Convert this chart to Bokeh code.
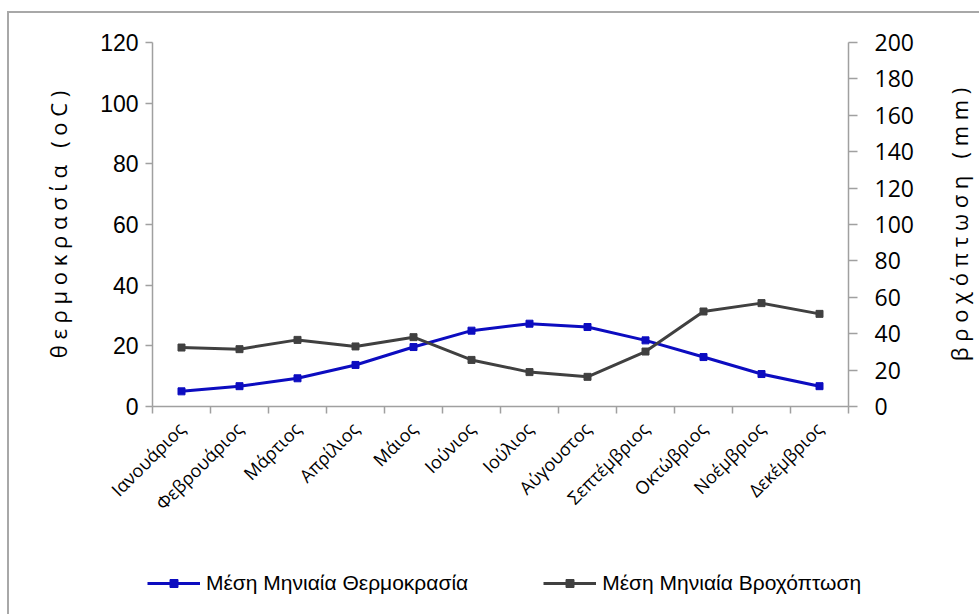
import math
from bokeh.plotting import figure
from bokeh.layouts import column, row
from bokeh.models import Legend, LegendItem, LinearAxis, Range1d, FixedTicker
from bokeh.embed import file_html
from bokeh.resources import INLINE

# ---- data ----
months = ["Ιανουάριος", "Φεβρουάριος", "Μάρτιος", "Απρίλιος", "Μάιος", "Ιούνιος",
          "Ιούλιος", "Αύγουστος", "Σεπτέμβριος", "Οκτώβριος", "Νοέμβριος", "Δεκέμβριος"]
temperature = [5.0, 6.7, 9.3, 13.7, 19.6, 25.0, 27.3, 26.2, 21.8, 16.3, 10.7, 6.7]
rainfall = [32.4, 31.5, 36.6, 33.0, 38.1, 25.6, 18.9, 16.3, 30.2, 52.2, 56.8, 50.9]
temp_ticks = [0, 20, 40, 60, 80, 100, 120]
rain_ticks = [0, 20, 40, 60, 80, 100, 120, 140, 160, 180, 200]
temp_label = "Μέση Μηνιαία Θερμοκρασία"
rain_label = "Μέση Μηνιαία Βροχόπτωση"
NB = "\u00a0"
left_title = NB.join("θερμοκρασία") + NB * 3 + NB.join("(oC)")
right_title = NB.join("βροχόπτωση") + NB * 3 + NB.join("(mm)")

BLUE = "#0c0cc0"
GREY = "#404040"
AXIS = "#a0a0a0"
FRAME = "#a8a8a8"

xs = list(range(len(months)))

MAIN_W = 940
MAIN_H = 560
LEG_H = 614 - MAIN_H


def bare(fig):
    fig.xgrid.visible = False
    fig.ygrid.visible = False
    fig.outline_line_color = None
    fig.border_fill_color = None
    try:
        fig.frame_align = False
    except Exception:
        pass


p = figure(width=MAIN_W, height=MAIN_H, output_backend="svg", toolbar_location=None,
           x_range=Range1d(-0.5, len(months) - 0.5), y_range=Range1d(0, 120),
           min_border_left=152, min_border_right=MAIN_W - 848, min_border_top=42,
           min_border_bottom=MAIN_H - 406)
p.extra_y_ranges = {"rain": Range1d(0, 200)}
bare(p)
p.background_fill_color = "white"

# x axis
xa = p.xaxis[0]
xa.ticker = FixedTicker(ticks=xs, minor_ticks=[i - 0.5 for i in range(len(months) + 1)])
xa.major_tick_line_color = None
xa.major_tick_out = 0
xa.major_tick_in = 0
xa.minor_tick_out = 7
xa.minor_tick_in = 0
xa.minor_tick_line_color = AXIS
xa.minor_tick_line_width = 1.5
xa.axis_line_color = AXIS
xa.axis_line_width = 1.5
xa.major_label_orientation = math.pi / 4
xa.major_label_overrides = {i: m for i, m in enumerate(months)}
xa.major_label_text_font = "Open Sans"
xa.major_label_text_font_size = "18px"
xa.major_label_text_color = "black"
xa.major_label_standoff = 12

# left axis
ya = p.yaxis[0]
ya.ticker = FixedTicker(ticks=temp_ticks)
ya.major_tick_out = 7
ya.major_tick_in = 0
ya.minor_tick_line_color = None
ya.major_tick_line_color = AXIS
ya.major_tick_line_width = 1.5
ya.axis_line_color = AXIS
ya.axis_line_width = 1.5
ya.major_label_text_font = "Liberation Sans"
ya.major_label_text_font_size = "23px"
ya.major_label_text_color = "black"
ya.major_label_standoff = 7
ya.axis_label = left_title
ya.axis_label_text_font = "Open Sans"
ya.axis_label_text_font_size = "22px"
ya.axis_label_text_font_style = "normal"
ya.axis_label_text_color = "black"
ya.axis_label_standoff = 24

# right axis
ra = LinearAxis(y_range_name="rain", ticker=FixedTicker(ticks=rain_ticks))
ra.major_tick_out = 9
ra.major_tick_in = 0
ra.minor_tick_line_color = None
ra.major_tick_line_color = AXIS
ra.major_tick_line_width = 1.5
ra.axis_line_color = AXIS
ra.axis_line_width = 1.5
ra.major_label_text_font = "Open Sans"
ra.major_label_text_font_size = "23px"
ra.major_label_text_color = "black"
ra.major_label_standoff = 17
p.add_layout(ra, "right")

# series
t_line = p.line(xs, temperature, line_color=BLUE, line_width=3)
t_pts = p.scatter(xs, temperature, marker="square", size=7, fill_color=BLUE, line_color=BLUE)
r_line = p.line(xs, rainfall, y_range_name="rain", line_color=GREY, line_width=3)
r_pts = p.scatter(xs, rainfall, y_range_name="rain", marker="square", size=7,
                  fill_color=GREY, line_color=GREY)

# narrow strip on the right carrying the rainfall axis title (reads bottom to top)
rt = figure(width=979 - MAIN_W, height=MAIN_H, output_backend="svg", toolbar_location=None,
            x_range=Range1d(0, 1), y_range=Range1d(0, 200),
            x_axis_location=None, y_axis_location="left",
            min_border_left=37, min_border_right=0, min_border_top=42,
            min_border_bottom=MAIN_H - 406)
bare(rt)
rt.background_fill_color = None
rta = rt.yaxis[0]
rta.ticker = FixedTicker(ticks=[])
rta.axis_line_color = None
rta.major_tick_line_color = None
rta.minor_tick_line_color = None
rta.major_tick_out = 0
rta.major_label_standoff = 0
rta.axis_label = right_title
rta.axis_label_text_font = "Open Sans"
rta.axis_label_text_font_size = "22px"
rta.axis_label_text_font_style = "normal"
rta.axis_label_text_color = "black"
rta.axis_label_standoff = 4

# legend strip below the chart (its own series copies lie outside its view,
# only the legend samples are visible)
lg = figure(width=979, height=LEG_H, output_backend="svg", toolbar_location=None,
            x_range=Range1d(0, 1), y_range=Range1d(-20, -10),
            x_axis_location=None, y_axis_location=None,
            min_border_left=0, min_border_right=0, min_border_top=0, min_border_bottom=0)
bare(lg)
lg.background_fill_color = None
lt_line = lg.line(xs, temperature, line_color=BLUE, line_width=3)
lt_pts = lg.scatter(xs, temperature, marker="square", size=7, fill_color=BLUE, line_color=BLUE)
lr_line = lg.line(xs, rainfall, line_color=GREY, line_width=3)
lr_pts = lg.scatter(xs, rainfall, marker="square", size=7, fill_color=GREY, line_color=GREY)
legend = Legend(items=[LegendItem(label=temp_label, renderers=[lt_line, lt_pts]),
                       LegendItem(label=rain_label, renderers=[lr_line, lr_pts])],
                orientation="horizontal", location=(147, 19),
                glyph_width=53, glyph_height=20, label_height=20,
                label_standoff=6, spacing=75,
                padding=0, margin=0, border_line_color=None,
                background_fill_alpha=0,
                label_text_font="Liberation Sans", label_text_font_size="21px",
                label_text_color="black")
lg.add_layout(legend)

layout = column(row(p, rt, spacing=0), lg, spacing=0, styles={
    "background": (f"linear-gradient({FRAME},{FRAME}) 7px 11px / 2px 100% no-repeat, "
                   f"linear-gradient({FRAME},{FRAME}) 7px 11px / 100% 2px no-repeat, white"),
})

open("out.html", "w").write(file_html(layout, INLINE))
